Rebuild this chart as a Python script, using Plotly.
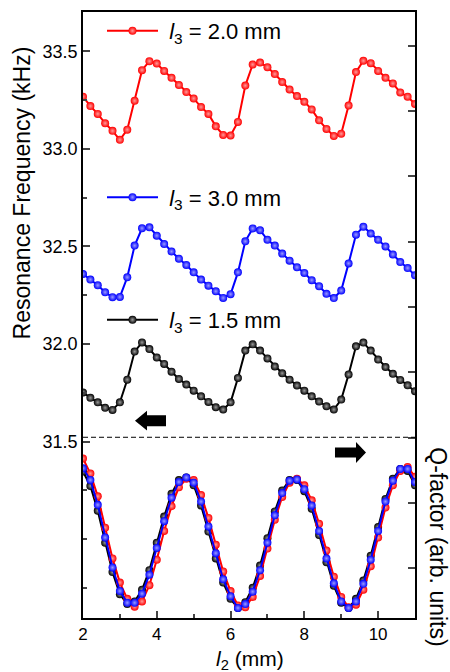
import plotly.graph_objects as go

# ---------------- data ----------------
l2_mm = [2.0, 2.2, 2.4, 2.6, 2.8, 3.0, 3.2, 3.4, 3.6, 3.8,
         4.0, 4.2, 4.4, 4.6, 4.8, 5.0, 5.2, 5.4, 5.6, 5.8,
         6.0, 6.2, 6.4, 6.6, 6.8, 7.0, 7.2, 7.4, 7.6, 7.8,
         8.0, 8.2, 8.4, 8.6, 8.8, 9.0, 9.2, 9.4, 9.6, 9.8,
         10.0, 10.2, 10.4, 10.6, 10.8, 11.0]

freq_l3_2_0 = [33.267, 33.219, 33.179, 33.131, 33.092, 33.046, 33.098, 33.246, 33.403, 33.449,
               33.437, 33.399, 33.364, 33.327, 33.291, 33.258, 33.214, 33.179, 33.115, 33.071,
               33.068, 33.138, 33.324, 33.432, 33.442, 33.418, 33.383, 33.342, 33.304, 33.270,
               33.241, 33.202, 33.146, 33.102, 33.066, 33.077, 33.222, 33.393, 33.451, 33.439,
               33.399, 33.364, 33.335, 33.289, 33.267, 33.230]

freq_l3_3_0 = [32.359, 32.330, 32.301, 32.265, 32.240, 32.241, 32.342, 32.504, 32.593, 32.598,
               32.555, 32.512, 32.474, 32.437, 32.405, 32.367, 32.330, 32.299, 32.270, 32.236,
               32.255, 32.367, 32.526, 32.592, 32.583, 32.534, 32.504, 32.463, 32.427, 32.393,
               32.364, 32.327, 32.296, 32.257, 32.235, 32.274, 32.413, 32.560, 32.601, 32.566,
               32.534, 32.500, 32.459, 32.420, 32.389, 32.352]

freq_l3_1_5 = [31.752, 31.724, 31.701, 31.673, 31.662, 31.701, 31.817, 31.961, 32.008, 31.974,
               31.931, 31.898, 31.858, 31.821, 31.792, 31.761, 31.732, 31.703, 31.676, 31.664,
               31.701, 31.826, 31.966, 31.998, 31.966, 31.926, 31.885, 31.850, 31.817, 31.787,
               31.761, 31.732, 31.705, 31.681, 31.664, 31.715, 31.844, 31.988, 32.007, 31.966,
               31.920, 31.882, 31.847, 31.816, 31.788, 31.758]

q_l3_2_0 = [2.68, 2.45, 2.10, 1.62, 1.15, 0.78, 0.53, 0.41, 0.49, 0.74,
            1.13, 1.57, 1.95, 2.24, 2.37, 2.35, 2.12, 1.77, 1.36, 0.95,
            0.65, 0.43, 0.40, 0.56, 0.88, 1.30, 1.74, 2.09, 2.31, 2.37,
            2.27, 2.04, 1.68, 1.27, 0.87, 0.56, 0.40, 0.44, 0.67, 1.03,
            1.47, 1.93, 2.27, 2.49, 2.55, 2.40]

q_l3_3_0 = [2.53, 2.35, 1.97, 1.47, 1.01, 0.65, 0.47, 0.47, 0.61, 0.90,
            1.31, 1.72, 2.08, 2.32, 2.39, 2.31, 2.02, 1.64, 1.23, 0.83,
            0.57, 0.39, 0.45, 0.64, 0.97, 1.39, 1.81, 2.15, 2.34, 2.36,
            2.21, 1.96, 1.57, 1.15, 0.77, 0.49, 0.39, 0.49, 0.76, 1.13,
            1.57, 2.02, 2.34, 2.52, 2.52, 2.32]

q_l3_1_5 = [2.48, 2.26, 1.88, 1.39, 0.94, 0.60, 0.45, 0.49, 0.67, 0.97,
            1.39, 1.79, 2.14, 2.35, 2.39, 2.27, 1.96, 1.56, 1.15, 0.78,
            0.53, 0.39, 0.48, 0.70, 1.04, 1.46, 1.87, 2.19, 2.35, 2.35,
            2.18, 1.91, 1.51, 1.09, 0.73, 0.47, 0.39, 0.53, 0.81, 1.19,
            1.63, 2.06, 2.37, 2.52, 2.49, 2.27]

legend_names = ["&nbsp;<i>l</i><sub>3</sub> = 2.0 mm",
                "&nbsp;<i>l</i><sub>3</sub> = 3.0 mm",
                "&nbsp;<i>l</i><sub>3</sub> = 1.5 mm"]

freq_ticks = [31.5, 32.0, 32.5, 33.0, 33.5]
freq_ticktext = ["31.5", "32.0", "32.5", "33.0", "33.5"]
x_ticks = [2, 4, 6, 8, 10]
separator_freq = 31.522

# ---------------- styling ----------------
FONT = "Liberation Sans, Arial, sans-serif"
RED, BLUE, BLACK = "#ff0000", "#0000ff", "#000000"
HILITE = {RED: "#ff9a9a", BLUE: "#9a9aff", BLACK: "#9a9a9a"}

fig = go.Figure()


def add_series(x, y, color, name=None, legend=None, axis="y"):
    fig.add_trace(go.Scatter(
        x=x, y=y, yaxis=axis, mode="lines+markers", name=name,
        showlegend=name is not None, legend=legend,
        line=dict(color=color, width=2),
        marker=dict(size=8, color=color, line=dict(width=0),
                    gradient=dict(type="radial", color=HILITE[color])),
    ))


# Q-factor curves (right axis)
add_series(l2_mm, q_l3_1_5, BLACK, axis="y2")
add_series(l2_mm, q_l3_2_0, RED, axis="y2")
add_series(l2_mm, q_l3_3_0, BLUE, axis="y2")

# resonance-frequency curves (left axis)
add_series(l2_mm, freq_l3_2_0, RED, legend_names[0], "legend")
add_series(l2_mm, freq_l3_3_0, BLUE, legend_names[1], "legend2")
add_series(l2_mm, freq_l3_1_5, BLACK, legend_names[2], "legend3")

# plot-area geometry in pixels (for decorations)
L, R, T, B = 83, 35, 10, 54
W, H = 450, 672
PW, PH = W - L - R, H - T - B


def px(xp):
    return (xp - L) / PW


def py(yp):
    return (H - B - yp) / PH


def arrow_path(tip_x, cy, head_len, head_half, shaft_half, tail_x):
    d = 1 if tail_x > tip_x else -1
    base = tip_x + d * head_len
    pts = [(tip_x, cy), (base, cy - head_half), (base, cy - shaft_half),
           (tail_x, cy - shaft_half), (tail_x, cy + shaft_half),
           (base, cy + shaft_half), (base, cy + head_half)]
    return "M " + " L ".join(f"{px(a):.4f},{py(b):.4f}" for a, b in pts) + " Z"


shapes = [
    dict(type="line", xref="paper", x0=0, x1=1, yref="y",
         y0=separator_freq, y1=separator_freq,
         line=dict(color="black", width=1, dash="5px,3px")),
    dict(type="path", xref="paper", yref="paper",
         path=arrow_path(135, 420, 12, 10, 5.5, 166),
         fillcolor="black", line=dict(width=0)),
    dict(type="path", xref="paper", yref="paper",
         path=arrow_path(366, 452, 10, 10.5, 5, 335),
         fillcolor="black", line=dict(width=0)),
]

annotations = [
    dict(text="Resonance Frequency (kHz)", xref="paper", yref="paper",
         x=px(22), y=py(192), textangle=-90, showarrow=False,
         xanchor="center", yanchor="middle",
         font=dict(family=FONT, size=23, color="black")),
    dict(text="Q-factor (arb. units)", xref="paper", yref="paper",
         x=px(438), y=py(546), textangle=90, showarrow=False,
         xanchor="center", yanchor="middle",
         font=dict(family=FONT, size=23, color="black")),
    dict(text="<i>l</i><sub>2</sub> (mm)", xref="paper", yref="paper",
         x=px(250), y=py(674), showarrow=False, borderpad=0,
         xanchor="center", yanchor="bottom",
         font=dict(family=FONT, size=21, color="black")),
]

legend_style = dict(xanchor="left", yanchor="middle", bgcolor="rgba(0,0,0,0)",
                    borderwidth=0, itemwidth=51,
                    font=dict(family=FONT, size=22, color="black"))

fig.update_layout(
    width=W, height=H,
    margin=dict(l=L, r=R, t=T, b=B),
    paper_bgcolor="white", plot_bgcolor="white",
    font=dict(family=FONT, size=18, color="black"),
    shapes=shapes, annotations=annotations,
    legend=dict(x=px(102), y=py(29), **legend_style),
    legend2=dict(x=px(102), y=py(196), **legend_style),
    legend3=dict(x=px(102), y=py(319), **legend_style),
    xaxis=dict(range=[2, 11], tickvals=x_ticks, ticks="inside", ticklen=7,
               tickwidth=1.5, showline=True, linewidth=1.5, linecolor="black",
               mirror=True, showgrid=False, zeroline=False,
               minor=dict(tickmode="linear", tick0=0, dtick=1, ticks="inside",
                          ticklen=4, tickwidth=1.5),
               tickfont=dict(family=FONT, size=17)),
    yaxis=dict(range=[30.596, 33.701], tickvals=freq_ticks, ticktext=freq_ticktext,
               ticks="inside", ticklen=7, tickwidth=1.5, showline=True,
               linewidth=1.5, linecolor="black", showgrid=False, zeroline=False,
               minor=dict(tickmode="linear", tick0=0, dtick=0.25, ticks="inside",
                          ticklen=4, tickwidth=1.5),
               tickfont=dict(family=FONT, size=18)),
    yaxis2=dict(range=[0.237, 9.519], overlaying="y", side="right",
                tickmode="linear", tick0=0, dtick=1, ticks="inside", ticklen=7,
                tickwidth=1.5, showticklabels=False, showline=True,
                linewidth=1.5, linecolor="black", showgrid=False, zeroline=False),
)

fig.write_html("out.html")
